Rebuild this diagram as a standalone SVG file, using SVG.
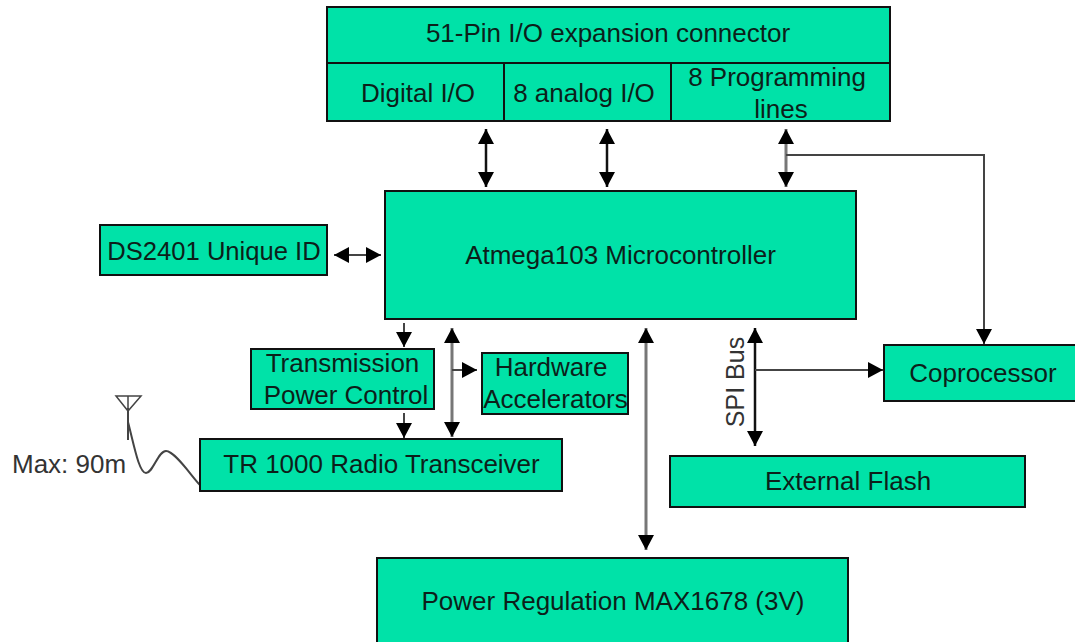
<svg xmlns="http://www.w3.org/2000/svg" width="1075" height="642" viewBox="0 0 1075 642">
<style>
.b{fill:#00e2a8;stroke:#111;stroke-width:2}
.t{font-family:"Liberation Sans",Arial,sans-serif;font-size:26px;fill:#0c1f1a;text-anchor:middle}
.g{font-family:"Liberation Sans",Arial,sans-serif;font-size:26px;fill:#333}
.c{fill:none;stroke:#444;stroke-width:2}
.m{stroke:#777;stroke-width:3}
.k{stroke-width:2.5;stroke:#111}
</style>
<defs>
<marker id="a" markerUnits="userSpaceOnUse" markerWidth="16" markerHeight="16" refX="15" refY="8" orient="auto-start-reverse"><path d="M0 0L15 8L0 16z" fill="#000"/></marker>
</defs>
<rect width="1075" height="642" fill="#fff"/>
<g id="connectors">
<path class="c k" d="M486 129V187" marker-start="url(#a)" marker-end="url(#a)"/>
<path class="c k" d="M607 129V187" marker-start="url(#a)" marker-end="url(#a)"/>
<path class="c m" d="M786 129V187" marker-start="url(#a)" marker-end="url(#a)"/>
<path class="c" stroke-width="2" d="M786 155H984V344" marker-end="url(#a)"/>
<path class="c" d="M334 255H381" marker-start="url(#a)" marker-end="url(#a)"/>
<path class="c" d="M404 323V347" marker-end="url(#a)"/>
<path class="c" d="M404 413V438" marker-end="url(#a)"/>
<path class="c m" d="M452 328V437" marker-start="url(#a)" marker-end="url(#a)"/>
<path class="c" d="M452 370H477" marker-end="url(#a)"/>
<path class="c m" d="M646 328V550" marker-start="url(#a)" marker-end="url(#a)"/>
<path class="c k" d="M755 328V446" marker-start="url(#a)" marker-end="url(#a)"/>
<path class="c" d="M755 370H883" marker-end="url(#a)"/>
<path class="c" d="M128 408V440"/>
<path class="c" d="M128 422C134 445 139 473 146 473C153 473 158 451 166 451C175 451 192 477 200 485"/>
<path d="M116 396H141L128 411zM128 396V411" fill="none" stroke="#444" stroke-width="1.5"/>
</g>
<g id="expansion-connector">
<rect class="b" x="327" y="7" width="563" height="114"/>
<path d="M327 63H890M504 63V121M671 63V121" fill="none" stroke="#111" stroke-width="2"/>
<text class="t" x="608" y="42">51-Pin I/O expansion connector</text>
<text class="t" x="418" y="102">Digital I/O</text>
<text class="t" x="584" y="102">8 analog I/O</text>
<text class="t" x="777" y="86">8 Programming</text>
<text class="t" x="781" y="118">lines</text>
</g>
<g id="microcontroller"><rect class="b" x="385" y="191" width="471" height="128"/><text class="t" x="620.5" y="264">Atmega103 Microcontroller</text></g>
<g id="unique-id"><rect class="b" x="100" y="225" width="227" height="50"/><text class="t" x="214" y="260" style="font-size:25.6px">DS2401 Unique ID</text></g>
<g id="power-control"><rect class="b" x="251" y="349" width="183" height="60"/><text class="t" x="342.5" y="372">Transmission</text><text class="t" x="346" y="404">Power Control</text></g>
<g id="accelerators"><rect class="b" x="482" y="353" width="146" height="61"/><text class="t" x="551" y="376">Hardware</text><text class="t" x="555.5" y="408">Accelerators</text></g>
<g id="radio"><rect class="b" x="200" y="439" width="362" height="52"/><text class="t" x="381.5" y="473">TR 1000 Radio Transceiver</text></g>
<g id="coprocessor"><rect class="b" x="884" y="345" width="192" height="56"/><text class="t" x="983" y="382">Coprocessor</text></g>
<g id="flash"><rect class="b" x="670" y="456" width="355" height="51"/><text class="t" x="848" y="490">External Flash</text></g>
<g id="power"><rect class="b" x="377" y="558" width="471" height="90"/><text class="t" x="613" y="610">Power Regulation MAX1678 (3V)</text></g>
<g id="labels">
<text class="g" x="12" y="473">Max: 90m</text>
<text class="g" style="font-size:25px" text-anchor="middle" transform="translate(744 382) rotate(-90)">SPI Bus</text>
</g>
</svg>
